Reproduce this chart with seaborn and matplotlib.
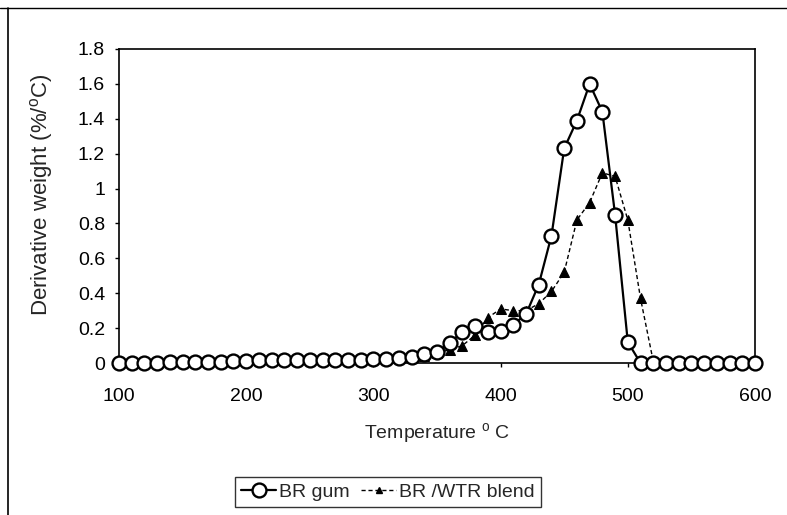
import numpy as np
import pandas as pd
import matplotlib
matplotlib.use("Agg")
import matplotlib.pyplot as plt
import seaborn as sns
from matplotlib.lines import Line2D

temperature = list(range(100, 601, 10))
br_gum = [0, 0, 0, 0, 0.005, 0.005, 0.005, 0.008, 0.008, 0.01,
          0.012, 0.015, 0.018, 0.018, 0.018, 0.018, 0.018, 0.018, 0.02, 0.02,
          0.022, 0.025, 0.03, 0.035, 0.05, 0.065, 0.115, 0.18, 0.21, 0.18,
          0.185, 0.22, 0.28, 0.45, 0.73, 1.23, 1.39, 1.6, 1.44, 0.85,
          0.12, 0.0, 0, 0, 0, 0, 0, 0, 0, 0, 0]
br_wtr = [0, 0, 0, 0, 0.005, 0.005, 0.005, 0.008, 0.008, 0.01,
          0.012, 0.015, 0.018, 0.018, 0.018, 0.018, 0.018, 0.018, 0.02, 0.02,
          0.022, 0.025, 0.028, 0.032, 0.04, 0.06, 0.075, 0.10, 0.16, 0.26,
          0.31, 0.30, 0.30, 0.34, 0.41, 0.52, 0.82, 0.92, 1.09, 1.07,
          0.82, 0.37, 0.01, 0, 0, 0, 0, 0, 0, 0, 0]
labels = ["BR gum", "BR /WTR blend"]

df = pd.DataFrame({"T": temperature, "gum": br_gum, "wtr": br_wtr})

sns.set_style("ticks")
plt.rcParams["font.family"] = ["Liberation Sans", "DejaVu Sans"]

fig = plt.figure(figsize=(7.87, 5.15), dpi=100)
ax = fig.add_axes([119/787, 1-363/515, (755-119)/787, (363-49)/515])

sns.lineplot(data=df, x="T", y="wtr", ax=ax, color="black", lw=1.0,
             linestyle=(0, (3, 2)), marker="^", markersize=6.5,
             markerfacecolor="black", markeredgecolor="black", clip_on=False,
             zorder=3)
sns.lineplot(data=df, x="T", y="gum", ax=ax, color="black", lw=1.6,
             marker="o", markersize=10, markerfacecolor="white",
             markeredgecolor="black", markeredgewidth=1.7, clip_on=False,
             zorder=4)

ax.set_xlim(100, 600)
ax.set_ylim(0, 1.8)
ax.set_xticks(range(100, 601, 100))
ax.set_yticks(np.arange(0, 1.81, 0.2))
ax.set_yticklabels(["0", "0.2", "0.4", "0.6", "0.8", "1", "1.2", "1.4", "1.6", "1.8"])
ax.tick_params(axis="both", labelsize=14, length=3, width=1, colors="black",
               direction="out")
ax.tick_params(axis="x", pad=15)
ax.tick_params(axis="y", pad=7)
for s in ax.spines.values():
    s.set_visible(True)
    s.set_color("black")
    s.set_linewidth(1.2)

ax.set_xlabel("Temperature $^{\\mathregular{o}}$ C", fontsize=14, va="center", ha="center")
ax.xaxis.set_label_coords(0.5, (363-434)/314)
ax.set_ylabel("Derivative weight (%/$^{\\mathregular{o}}$C)", fontsize=16, va="center", ha="center")
ax.yaxis.set_label_coords((42-119)/636, (363-195)/314)

handles = [
    Line2D([], [], color="black", lw=1.6, marker="o", markersize=10,
           markerfacecolor="white", markeredgecolor="black", markeredgewidth=1.7),
    Line2D([], [], color="black", lw=1.0, linestyle=(0, (3, 2)), marker="^",
           markersize=5, markerfacecolor="black"),
]
leg = fig.legend(handles, labels, loc="center", bbox_to_anchor=(388/787, 1-492/515),
                 ncol=2, fontsize=14, frameon=True, fancybox=False,
                 edgecolor="black", handlelength=1.8, handletextpad=0.15,
                 columnspacing=0.6, borderpad=0.3, borderaxespad=0)
leg.get_frame().set_linewidth(1.0)

fig.add_artist(Line2D([8/787, 8/787], [0, 1-8/515], transform=fig.transFigure,
                      color="black", lw=1.2))
fig.add_artist(Line2D([0, 1], [1-8/515, 1-8/515], transform=fig.transFigure,
                      color="black", lw=1.0))

fig.savefig("out.png", dpi=100, facecolor="white")
